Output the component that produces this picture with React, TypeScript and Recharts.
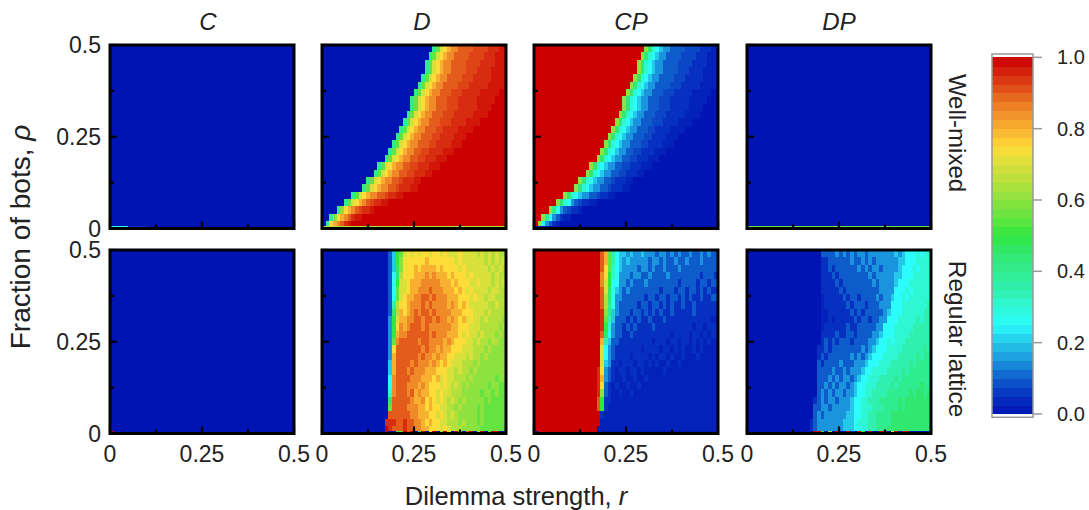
import React from "react";
import { ScatterChart, Scatter, XAxis, YAxis, ReferenceArea } from "recharts";

// Row values are run-length lists, top row first. Each symbol is a level in steps of 0.05: 0..9,a..k => 0.00..1.00
// plus four half-steps: z = 0.025, y = 0.075, p = 0.925, q = 0.975
const SYMBOLS = "0123456789abcdefghijk";
const HALF_STEPS: Record<string, number> = { z: 0.025, y: 0.075, p: 0.925, q: 0.975 };

const blankRows = ["0*50"];

const wellMixedD = [
  "0*30 8 b e f g h*2 i*4 p*4 j*3 q*2",
  "0*29 8 b e f g h*2 i*4 p*4 j*3 q*3",
  "0*28 8 b e f g h*2 i*4 p*4 j*4 q*3",
  "0*28 8 b e f g h*2 i*4 p*3 j*4 q*4",
  "0*27 8 b e f g h*2 i*4 p*3 j*5 q*4",
  "0*26 8 b e f g h*2 i*4 p*3 j*5 q*5",
  "0*25 8 b e f g h*2 i*3 p*3 j*5 q*5 k*2",
  "0*24 8 b e f g h*2 i*3 p*3 j*5 q*5 k*3",
  "0*24 8 b e f g h*2 i*3 p*3 j*5 q*4 k*4",
  "0*23 8 b e f g h*2 i*3 p*3 j*5 q*4 k*5",
  "0*22 8 b e f g h*2 i*3 p*3 j*4 q*4 k*7",
  "0*21 8 b e f g h*2 i*3 p*2 j*4 q*4 k*9",
  "0*20 8 b e f g h*2 i*3 p*2 j*4 q*3 k*11",
  "0*19 8 b e f g h*2 i*3 p*2 j*4 q*3 k*12",
  "0*18 8 b e f g h*2 i*2 p*2 j*4 q*3 k*14",
  "0*17 8 b e f g h*2 i*2 p*2 j*3 q*3 k*16",
  "0*15 8 b e f g h*2 i*2 p*2 j*3 q*3 k*18",
  "0*14 8 b e f g h*2 i*2 p*2 j*3 q*2 k*20",
  "0*12 8 b e f g h*2 i*2 p j*3 q*2 k*23",
  "0*11 8 b e f g h*2 i*2 p j*3 q*2 k*24",
  "0*8 8 b e f g h*2 i*2 p j*2 q*2 k*28",
  "0*6 8 b e f g h i p j*2 q*2 k*32",
  "0*4 8 c f g h i p j*2 q k*36",
  "0*2 8 c f g h i j q*2 k*39",
  "0 8 f g h i j q k*42",
];

const wellMixedCP = [
  "k*30 c 9 6 5 4 3*2 2*4 y*4 1*3 z*2",
  "k*29 c 9 6 5 4 3*2 2*4 y*4 1*3 z*3",
  "k*28 c 9 6 5 4 3*2 2*4 y*4 1*4 z*3",
  "k*28 c 9 6 5 4 3*2 2*4 y*3 1*4 z*4",
  "k*27 c 9 6 5 4 3*2 2*4 y*3 1*5 z*4",
  "k*26 c 9 6 5 4 3*2 2*4 y*3 1*5 z*5",
  "k*25 c 9 6 5 4 3*2 2*3 y*3 1*5 z*5 0*2",
  "k*24 c 9 6 5 4 3*2 2*3 y*3 1*5 z*5 0*3",
  "k*24 c 9 6 5 4 3*2 2*3 y*3 1*5 z*4 0*4",
  "k*23 c 9 6 5 4 3*2 2*3 y*3 1*5 z*4 0*5",
  "k*22 c 9 6 5 4 3*2 2*3 y*3 1*4 z*4 0*7",
  "k*21 c 9 6 5 4 3*2 2*3 y*2 1*4 z*4 0*9",
  "k*20 c 9 6 5 4 3*2 2*3 y*2 1*4 z*3 0*11",
  "k*19 c 9 6 5 4 3*2 2*3 y*2 1*4 z*3 0*12",
  "k*18 c 9 6 5 4 3*2 2*2 y*2 1*4 z*3 0*14",
  "k*17 c 9 6 5 4 3*2 2*2 y*2 1*3 z*3 0*16",
  "k*15 c 9 6 5 4 3*2 2*2 y*2 1*3 z*3 0*18",
  "k*14 c 9 6 5 4 3*2 2*2 y*2 1*3 z*2 0*20",
  "k*12 c 9 6 5 4 3*2 2*2 y 1*3 z*2 0*23",
  "k*11 c 9 6 5 4 3*2 2*2 y 1*3 z*2 0*24",
  "k*8 c 9 6 5 4 3*2 2*2 y 1*2 z*2 0*28",
  "k*6 c 9 6 5 3 2 y 1*2 z*2 0*32",
  "k*4 c 8 5 3 2 y 1*2 z 0*36",
  "k*2 c 8 5 3 2 1 z*2 0*39",
  "k c 5 3 2 1 z 0*43",
];

const latticeD = [
  "0*18 2 4 a b e f e f e f f e f f e f e e e f e e e e d e d e d e d d",
  "0*18 2 4 a c f f f f f f g f f f f f f f e f e e e e e e d e d e d e",
  "0*18 2 4 9 c f f f g f g g g g f g f f f f e f e e e e e e d e d e d",
  "0*18 2 5 9 d f f f g g g h g h g g g f g f f f e f e e e e e d e d d",
  "0*18 2 5 a e e f g g g h h h h h g g g f g f f f e e f e e e d e d e",
  "0*18 2 5 b e e f g g h h h i h h h g g g f g f e f e e e e d e e d d",
  "0*18 2 5 b e f g g h h i i h i h h h g g g f f f e f e e d e e d d d",
  "0*18 2 7 d f f g h h h i h i h h h h g h g f g f e e e e e d d e d d",
  "0*18 2 9 d g f g h i h i i h i h h h h g g g f f f e e e d e d d d d",
  "0*18 3 a e g g h h i i h i i h i h h g h g f g e f e e d e d d d d c",
  "0*18 3 a f h g h i i i h i h h h h h h g g f f f e e e d d d d d c d",
  "0*18 3 a g h h i i i i i i h i h h h g g g f e f e e d e d d d c d c",
  "0*18 3 b h i i i i i h i i h h h h g h g f f f e e d e d d c d d c c",
  "0*18 3 f i i i i i i i h i h h g h g g f f f e e e d d d c d c c c c",
  "0*18 3 g i i i i i i h i h h g h g g f f e e e d e d d c d c c c c c",
  "0*18 4 g i i i i h i h h h g h g f g f e e e d d d c d c c c c c c c",
  "0*18 4 g i i i h i h h h g g g f f f e e d e d d c d c c c c c c c c",
  "0*18 5 h i i i i h h h g g g f g e f e e d d d c d c c c c c c b c c",
  "0*18 5 h i i i h h h g h g f f f e f e d e d c d c c c c c b c c b b",
  "0*18 6 h i i i h i g h g g f f e f e e d d d c c c c c b c c b c b b",
  "0*18 9 i i i i i h g g h f g f e f e d e d c d c c c c c b c b b b b",
  "0*18 b i i i i h h h g g f g f f e e d d c d c c c c b c b b b b b b",
  "0*18 i i i i i i h h g g g f f e f e d e d c c c c c b c b b b b b b",
  "0*17 j j j i i j i i h h g f g f f e e d d d c d c c c b c b b b b b b",
  "0*17 k j i i i j i i h h g g f f f e f e d d d c c c c c b b b b b b b",
];

const latticeCP = [
  "k*18 i g b 7 5 4 4 3 4 3 3 4 3 3 3 2 3 3 2 3 2 3 2 2 3 2 2 3 2 3 2 2",
  "k*18 i g b 7 5 4 3 4 3 3 3 3 3 2 3 3 2 3 2 2 3 2 2 3 2 2 2 3 2 2 2 2",
  "k*18 i f b 6 5 4 3 3 3 3 2 3 3 2 3 2 2 3 2 2 2 3 2 2 2 2 2 2 2 2 2 2",
  "k*18 h f a 6 5 3 3 3 2 3 3 2 2 3 2 2 2 2 3 2 2 2 2 2 2 2 2 1 2 2 2 1",
  "k*18 h e a 5 5 3 3 2 3 2 2 2 3 2 2 2 2 2 2 2 2 1 2 2 2 2 1 2 2 1 2 2",
  "k*18 i e 9 5 4 3 2 3 2 2 2 2 2 2 2 2 1 2 2 2 1 2 2 1 2 2 1 2 1 2 1",
  "k*18 i d 9 5 3 3 2 2 2 2 2 2 1 2 2 1 2 2 1 2 2 1 2 1 2 1 1 2 1 1 2",
  "k*18 i d 8 5 3 2 2 2 2 2 1 2 2 1 2 2 1 2 1 2 1 1 2 1 1 2 1 1 1 1 1",
  "k*18 j c 8 4 3 2 2 2 1 2 2 1 2 1 2 1 2 1 1 2 1 1 1 1 1 2 1 1 1 1 1",
  "k*18 j b 7 4 2 2 2 1 2 1 2 1 1 2 1 1 1 2 1 1 1 1 1 1 1 1 1 1 1 1 z",
  "k*18 j a 6 3 2 2 1 2 1 2 1 1 1 1 2 1 1 1 1 1 1 1 1 1 1 z 1 1 z 1 1",
  "k*18 i 9 5 3 2 2 1 1 2 1 1 1 1 1 1 1 1 1 1 z 1 1 1 1 z 1 1 z 1 z 1",
  "k*18 g 7 4 2 2 1 1 1 1 1 1 1 1 1 z 1 1 1 z 1 1 z 1 1 z 1 z 1 z 1 z",
  "k*18 e 5 3 2 1 1 1 1 1 1 1 z 1 1 1 1 z 1 1 z 1 z 1 z z 1 z 1 z z z",
  "k*18 e 5 3 2 1 1 1 1 z 1 1 1 1 z 1 z 1 1 z 1 z z 1 z z z 1 z z z z",
  "k*18 e 4 3 1 1 z 1 1 1 z 1 1 z 1 z 1 z z 1 z z 1 z z z z z z z z z",
  "k*17 j f 3 2 1 z 1 1 z 1 1 z 1 z z z z z 1 z z z z z z z z z z z z z",
  "k*17 j g 3 2 1 z z 1 z z 1 z z 1 z z z z z z z z z z z z z z z z z z",
  "k*17 j f 2 1 z 1 z z 1 z z 1 z z z z z z z z z z z z z z z z z z z z",
  "k*17 j c 2 1 z z 1 z z 1 z z z z z z z z z z z z z z z z z z z z z z",
  "k*17 i a 1 1 z z z z z z z z z z z z z z z z z z z z z z z z z z z z",
  "k*17 i a 1 z z z z z z z z z z z z z z z z z z z z z z z z z z z z z",
  "k*18 1 z*31",
  "k*18 z*32",
  "k*17 z*33",
];

const latticeDP = [
  "0*20 2 2 2 2 3 2 3 2 3 2 3 3 2 3 3 3 3 3 3 3 4 3 4 5 5 5 6 5 6 6",
  "0*20 1 1 2 2 2 2 2 2 3 2 2 3 2 3 2 3 3 3 3 3 3 4 4 5 5 5 6 6 6 6",
  "0*20 1 1 2 1 2 2 2 2 2 2 3 2 3 2 3 3 2 3 3 3 3 4 5 5 5 6 5 6 6 6",
  "0*20 1 1 1 2 1 2 2 2 2 2 2 2 2 3 2 3 3 3 3 3 4 4 5 5 5 6 6 6 6 6",
  "0*20 1 1 1 1 2 1 2 2 2 2 2 2 2 2 3 2 3 3 3 3 4 5 5 5 6 6 6 6 6 6",
  "0*20 1 1 1 1 1 2 1 2 2 2 2 2 2 2 2 2 3 3 3 3 5 5 5 6 5 6 6 6 6 6",
  "0*20 z 1 1 1 1 1 2 1 2 2 1 2 2 2 2 3 2 3 3 4 5 5 6 5 6 6 6 6 6 6",
  "0*20 z 1 1 1 1 1 1 2 1 2 2 2 1 2 2 2 3 3 3 5 5 5 6 6 6 6 6 6 6 7",
  "0*20 z z 1 1 1 1 1 1 2 1 2 1 2 2 2 2 2 3 4 5 5 5 6 6 6 6 6 6 7 7",
  "0*20 z z 1 z 1 1 1 1 1 2 1 2 2 1 2 2 3 3 5 5 5 6 6 6 6 6 7 6 7 7",
  "0*20 z 1 1 1 1 1 1 2 1 1 2 2 2 2 2 3 3 5 5 5 6 6 6 6 6 7 7 7 7 7",
  "0*20 1 1 1 1 2 1 1 2 2 1 2 2 2 2 3 3 4 5 5 5 6 6 6 6 7 7 7 7 7 7",
  "0*20 1 2 1 2 1 2 2 2 1 2 2 2 2 3 3 4 5 5 6 5 6 6 6 7 7 7 7 7 7 7",
  "0*19 1 1 2 1 2 2 2 2 2 2 2 2 3 2 3 4 5 5 5 6 6 6 6 7 7 7 7 7 7 8 7",
  "0*19 1 2 1 2 2 2 2 2 2 3 2 3 2 3 4 5 5 5 6 6 6 6 7 7 7 7 7 8 7 8 8",
  "0*19 2 1 2 2 2 2 3 2 2 2 3 3 3 4 5 5 5 6 6 6 7 7 7 7 7 8 7 8 8 8 8",
  "0*19 2 2 2 2 3 2 2 3 2 3 3 3 4 5 5 6 6 6 6 7 7 7 7 8 7 8 8 8 8 8 8",
  "0*19 2 2 2 3 2 3 2 3 3 2 3 4 5 5 6 6 6 7 7 7 7 8 7 8 8 8 8 8 8 8 8",
  "0*19 2 2 3 2 3 2 3 3 2 3 4 5 5 6 6 6 7 7 7 7 8 7 8 8 8 8 8 8 9 8 8",
  "0*19 2 3 2 3 2 3 3 2 3 3 4 5 5 6 6 7 7 7 7 8 8 8 8 8 8 9 8 9 9 8 9",
  "0*18 1 2 3 2 3 3 2 3 3 3 4 5 5 6 6 7 7 7 8 8 8 8 8 9 8 9 9 9 9 9 9 9",
  "0*18 2 2 3 3 2 3 3 3 3 3 4 5 5 6 6 6 7 7 7 8 8 8 8 9 8 9 9 9 9 9 9 9",
  "0*18 2 3 2 3 3 3 3 3 3 4 4 5 5 6 6 7 7 8 8 8 8 9 9 9 9 9 9 9 9 9 9 9",
  "0*17 1 2 3 3 3 3 3 3 3 4 4 4 5 6 6 6 7 7 8 8 8 8 9 9 9 9 9 9 9 9 9 9",
  "0*17 1 2 3 3 3 3 3 3 3 4 4 4 5 5 6 6 7 7 8 8 8 9 9 9 9 9 9 9 9 9 9 9",
];

// Bottom row of each panel (rho = 0)
const edgeWellC = "5*5 1*5 0*40";
const edgeWellD = "d*50";
const edgeWellCP = "0*50";
const edgeWellDP = "b*50";
const edgeLatC = "k 0*49";
const edgeLatD = "0*17 k 0 0 a b k i k 0 a k 0 e k 0 c k e 0 k a 0 i k 0 c k 0 b k k 0 0";
const edgeLatCP = "0 k*16 0*33";
const edgeLatDP = "0*18 k k a 0 c 0 k 0 0 k 1 0 k a 0 k 0 0 k k 0 e k 0 k k 0 0 0 0 0 0";

const palette = [
  "#0014b4", "#0630c0", "#0e5ccc", "#1a94dc", "#24c8e8", "#2cfcfc", "#2ef8d4",
  "#30f0b0", "#30ec90", "#30e870", "#30e840", "#64e440", "#8ce23e", "#b4e03c",
  "#d8e03c", "#ffdc38", "#f8b030", "#f08a28", "#e45c1c", "#d82c10", "#cc0000",
];

const colorbarLevels = [
  0, 0.025, 0.05, 0.075, 0.1, 0.125, 0.15, 0.175, 0.2, 0.225, 0.25, 0.275, 0.3, 0.325,
  0.35, 0.375, 0.4, 0.425, 0.45, 0.475, 0.5, 0.525, 0.55, 0.575, 0.6, 0.625, 0.65, 0.675,
  0.7, 0.725, 0.75, 0.775, 0.8, 0.825, 0.85, 0.875, 0.9, 0.925, 0.95, 0.975,
];

const axisTicks = [0, 0.125, 0.25, 0.375, 0.5];
const majorLabels: Record<string, string> = { "0": "0", "0.25": "0.25", "0.5": "0.5" };
const colorbarTicks = [0, 0.2, 0.4, 0.6, 0.8, 1];

const FONT = "'Liberation Sans', Arial, sans-serif";
const PW = 184;
const PH = 183.5;
const M = { top: 22, left: 70, right: 20, bottom: 40 };

function hex(c: string) {
  return [1, 3, 5].map((i) => parseInt(c.slice(i, i + 2), 16));
}
function colorOf(v: number) {
  const p = Math.min(20, Math.max(0, v * 20));
  const i = Math.min(19, Math.floor(p));
  const t = p - i;
  const a = hex(palette[i]);
  const b = hex(palette[i + 1]);
  return `rgb(${a.map((x, k) => Math.round(x + (b[k] - x) * t)).join(",")})`;
}

function decodeRow(row: string): number[] {
  const out: number[] = [];
  for (const tok of row.trim().split(/\s+/)) {
    const [s, n] = tok.split("*");
    const v = s in HALF_STEPS ? HALF_STEPS[s] : SYMBOLS.indexOf(s) / 20;
    for (let i = 0; i < (n ? Number(n) : 1); i++) out.push(v);
  }
  while (out.length < 50) out.push(out[out.length - 1]);
  return out.slice(0, 50);
}

function buildCells(rows: string[], edge: string) {
  const cells: { x: number; y: number; v: number; thin?: boolean }[] = [];
  for (let r = 0; r < 25; r++) {
    const vals = decodeRow(rows[r % rows.length]);
    vals.forEach((v, c) => cells.push({ x: (c + 0.5) * 0.01, y: 0.5 - (r + 0.5) * 0.02, v }));
  }
  decodeRow(edge).forEach((v, c) => cells.push({ x: (c + 0.5) * 0.01, y: 0.004, v, thin: true }));
  return cells;
}

const CellShape = (p: any) => {
  const d = p.payload ?? p;
  const w = PW / 50;
  const h = d.thin ? 3 : PH / 25;
  return (
    <rect x={p.cx - w / 2} y={p.cy - h / 2} width={w + 0.5} height={h + 0.5} fill={colorOf(d.v)} shapeRendering="crispEdges" />
  );
};

const FrameShape = (p: any) => (
  <rect x={p.x} y={p.y} width={p.width} height={p.height} fill="none" stroke={p.color} strokeWidth={p.lw} />
);

const Panel = ({ left, top, rows, edge, xLabels, yLabels }: any) => {
  const bottom = M.top + PH;
  const XTick = ({ x, payload }: any) => {
    const major = majorLabels[String(payload.value)] !== undefined;
    return (
      <g>
        <line x1={x} x2={x} y1={bottom} y2={bottom - (major ? 7 : 4)} stroke="#000" strokeWidth={2.2} />
        {xLabels && major && (
          <text x={x} y={bottom + 28} textAnchor="middle" fontSize={23} fontFamily={FONT} fill="#222">
            {majorLabels[String(payload.value)]}
          </text>
        )}
      </g>
    );
  };
  const YTick = ({ y, payload }: any) => {
    const major = majorLabels[String(payload.value)] !== undefined;
    return (
      <g>
        <line x1={M.left} x2={M.left + (major ? 7 : 4)} y1={y} y2={y} stroke="#000" strokeWidth={2.2} />
        {yLabels && major && (
          <text x={M.left - 9} y={y + 8} textAnchor="end" fontSize={23} fontFamily={FONT} fill="#222">
            {majorLabels[String(payload.value)]}
          </text>
        )}
      </g>
    );
  };
  return (
    <div style={{ position: "absolute", left: left - M.left, top: top - M.top }}>
      <ScatterChart
        width={PW + M.left + M.right}
        height={PH + M.top + M.bottom}
        margin={{ top: M.top, right: M.right, left: 0, bottom: 0 }}
      >
        <Scatter data={buildCells(rows, edge)} dataKey="y" isAnimationActive={false} shape={CellShape} zIndex={1} />
        <XAxis type="number" dataKey="x" domain={[0, 0.5]} ticks={axisTicks} interval={0} height={M.bottom} axisLine={false} tickLine={false} tick={XTick} />
        <YAxis type="number" dataKey="y" domain={[0, 0.5]} ticks={axisTicks} interval={0} width={M.left} axisLine={false} tickLine={false} tick={YTick} />
        <ReferenceArea x1={0} x2={0.5} y1={0} y2={0.5} ifOverflow="visible" zIndex={700} shape={<FrameShape color="#000" lw={3} />} />
      </ScatterChart>
    </div>
  );
};

const BAND_H = 356.7 / 40;
const BarBand = (p: any) => {
  const d = p.payload ?? p;
  return (
    <rect x={p.cx - 20.5} y={p.cy - BAND_H} width={41} height={BAND_H + 0.5} fill={colorOf(d.v + 0.0125)} shapeRendering="crispEdges" />
  );
};

const ColorBar = () => {
  const data = colorbarLevels.map((v) => ({ x: 0.5, y: v, v }));
  const mTop = 10;
  const mLeft = 10;
  const BTick = ({ y, payload }: any) => (
    <g>
      <line x1={mLeft + 41} x2={mLeft + 50} y1={y} y2={y} stroke="#999" strokeWidth={1.5} />
      <text x={mLeft + 65} y={y + 7} fontSize={20} fontFamily={FONT} fill="#222">
        {payload.value.toFixed(1)}
      </text>
    </g>
  );
  return (
    <div style={{ position: "absolute", left: 992 - mLeft, top: 54 - mTop }}>
      <ScatterChart width={107} height={384} margin={{ top: mTop, left: mLeft, right: 0, bottom: 10.7 }}>
        <Scatter data={data} dataKey="y" isAnimationActive={false} shape={BarBand} zIndex={1} />
        <XAxis type="number" dataKey="x" domain={[0, 1]} hide />
        <YAxis type="number" dataKey="y" orientation="right" domain={[-0.0093, 1.0093]} ticks={colorbarTicks} interval={0} width={56} axisLine={false} tickLine={false} tick={BTick} />
        <ReferenceArea x1={0} x2={1} y1={-0.0093} y2={1.0093} ifOverflow="visible" zIndex={700} shape={<FrameShape color="#999" lw={1.5} />} />
      </ScatterChart>
    </div>
  );
};

export default function App() {
  const t = { fontFamily: FONT, fill: "#222" };
  return (
    <div style={{ position: "absolute", left: 0, top: 0, width: 1089, height: 510, overflow: "hidden", background: "#fff" }}>
      <Panel left={110} top={45} rows={blankRows} edge={edgeWellC} yLabels />
      <Panel left={322} top={45} rows={wellMixedD} edge={edgeWellD} />
      <Panel left={534} top={45} rows={wellMixedCP} edge={edgeWellCP} />
      <Panel left={747} top={45} rows={blankRows} edge={edgeWellDP} />
      <Panel left={110} top={249.5} rows={blankRows} edge={edgeLatC} xLabels yLabels />
      <Panel left={322} top={249.5} rows={latticeD} edge={edgeLatD} xLabels />
      <Panel left={534} top={249.5} rows={latticeCP} edge={edgeLatCP} xLabels />
      <Panel left={747} top={249.5} rows={latticeDP} edge={edgeLatDP} xLabels />
      <ColorBar />
      <svg width={1089} height={510} style={{ position: "absolute", left: 0, top: 0, pointerEvents: "none" }}>
        <g {...t} fontSize={24} fontStyle="italic" textAnchor="middle">
          <text x={208} y={30}>C</text>
          <text x={422} y={30}>D</text>
          <text x={631} y={30}>CP</text>
          <text x={839} y={30}>DP</text>
        </g>
        <text {...t} x={516} y={505} fontSize={25.5} textAnchor="middle">
          Dilemma strength, <tspan fontStyle="italic">r</tspan>
        </text>
        <text {...t} transform="translate(30,237) rotate(-90)" fontSize={28} textAnchor="middle">
          Fraction of bots, <tspan fontStyle="italic">ρ</tspan>
        </text>
        <text {...t} transform="translate(949,133) rotate(90)" fontSize={24} textAnchor="middle">Well-mixed</text>
        <text {...t} transform="translate(949,339) rotate(90)" fontSize={24.5} textAnchor="middle">Regular lattice</text>
      </svg>
    </div>
  );
}
